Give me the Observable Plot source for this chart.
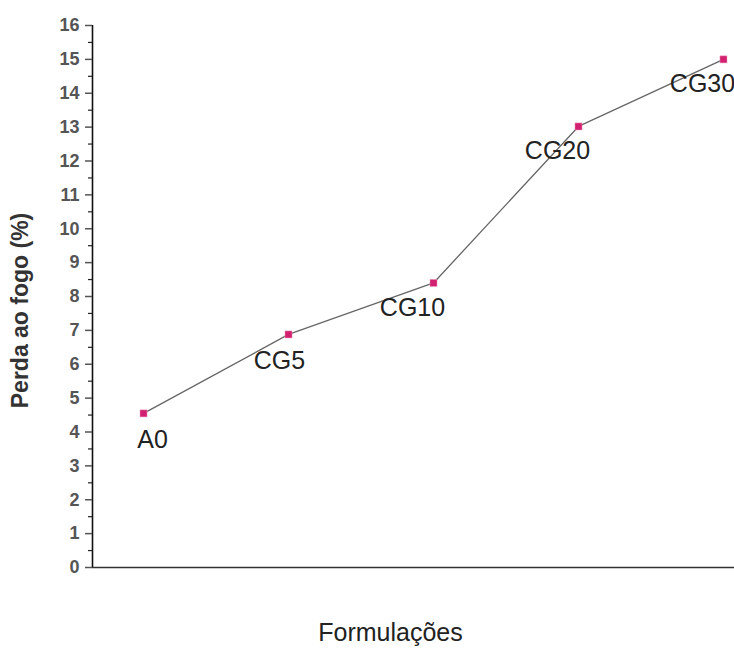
<!DOCTYPE html>
<html><head><meta charset="utf-8">
<script src="https://cdn.jsdelivr.net/npm/d3@7"></script>
<script src="https://cdn.jsdelivr.net/npm/@observablehq/plot@0.6"></script>
<style>body{margin:0;background:#fff}</style>
</head><body><div id="chart"></div>
<script>
const formulations = ["A0", "CG5", "CG10", "CG20", "CG30"];
const lossValues = [4.55, 6.88, 8.4, 13.02, 15.0];
const yTicks = [0,1,2,3,4,5,6,7,8,9,10,11,12,13,14,15,16];
const yMinorTicks = [0.5,1.5,2.5,3.5,4.5,5.5,6.5,7.5,8.5,9.5,10.5,11.5,12.5,13.5,14.5,15.5];
const yLabel = "Perda ao fogo (%)";
const xLabel = "Formulações";

const data = formulations.map((f, i) => ({f, i, v: lossValues[i]}));
const font = "'Liberation Sans', Arial, sans-serif";

const chart = Plot.plot({
  width: 734, height: 650,
  marginLeft: 92, marginRight: 0, marginTop: 25, marginBottom: 83,
  style: {fontFamily: font, background: "#fff"},
  x: {type: "linear", domain: [-0.352, 4.076], axis: null},
  y: {type: "linear", domain: [0, 16], axis: null},
  marks: [
    Plot.ruleY([0], {stroke: "#333", strokeWidth: 1.6}),
    Plot.ruleX([-0.352], {y1: 0, y2: 16, stroke: "#111", strokeWidth: 1.6}),
    Plot.axisY({ticks: yTicks, tickSize: 7, tickFormat: d => d, fontSize: 18, fontWeight: "bold", tickPadding: 6, color: "#555", label: null, strokeWidth: 1.5}),
    Plot.axisY({ticks: yMinorTicks, tickSize: 4, tickFormat: () => "", label: null, strokeWidth: 1.2, stroke: "#222"}),
    Plot.line(data, {x: "i", y: "v", stroke: "#666", strokeWidth: 1.3}),
    Plot.dot(data, {x: "i", y: "v", symbol: "square", r: 4, fill: "#d0206f", stroke: "#f0a0c0", strokeWidth: 0.5}),
    Plot.text(data.slice(0, 1), {x: "i", y: "v", text: "f", dx: 9, dy: 27, fontSize: 25, fill: "#222"}),
    Plot.text(data.slice(1, 2), {x: "i", y: "v", text: "f", dx: -9, dy: 27, fontSize: 25, fill: "#222"}),
    Plot.text(data.slice(2), {x: "i", y: "v", text: "f", dx: -21, dy: 25, fontSize: 25, fill: "#222"}),
    Plot.text([yLabel], {frameAnchor: "left", textAnchor: "middle", dx: -72, dy: 14, rotate: -90, fontSize: 23, fontWeight: "bold", fill: "#333"}),
    Plot.text([xLabel], {frameAnchor: "bottom", dx: -23, dy: 73, fontSize: 25, fill: "#222"})
  ]
});
document.getElementById("chart").append(chart);
</script>
</body></html>
